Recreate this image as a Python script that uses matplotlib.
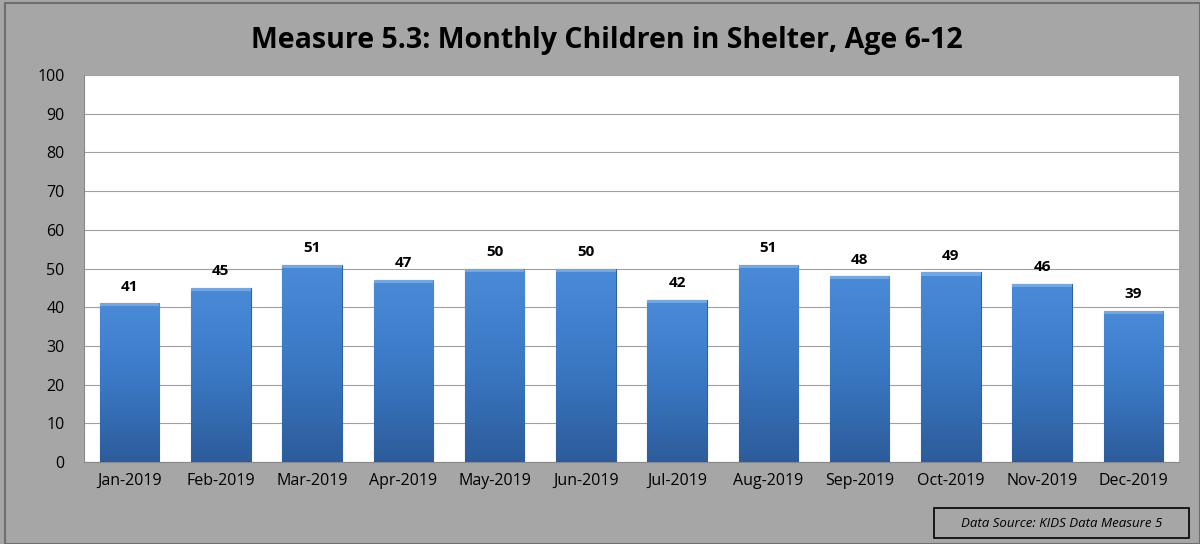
import numpy as np
import matplotlib.pyplot as plt
from matplotlib.patches import Rectangle
from matplotlib.colors import LinearSegmentedColormap

meses = ['Jan-2019', 'Feb-2019', 'Mar-2019', 'Apr-2019', 'May-2019', 'Jun-2019',
         'Jul-2019', 'Aug-2019', 'Sep-2019', 'Oct-2019', 'Nov-2019', 'Dec-2019']
ninos = [41, 45, 51, 47, 50, 50, 42, 51, 48, 49, 46, 39]
titulo = 'Measure 5.3: Monthly Children in Shelter, Age 6-12'
fuente = 'Data Source: KIDS Data Measure 5'

plt.rcParams['font.family'] = ['Open Sans', 'DejaVu Sans']

fig = plt.figure(figsize=(12, 5.44), dpi=100, facecolor='#A6A6A6')
ax = fig.add_axes([0.07, 0.1507, 0.9125, 0.7113])
ax.set_facecolor('white')

x = np.arange(len(meses))
barras = ax.bar(x, ninos, width=0.65, color='#3A78C4', edgecolor='#2E5F9E',
                linewidth=0.8, zorder=3)

# degradado vertical dentro de cada barra
grad = np.linspace(0, 1, 256).reshape(-1, 1)
cmap = LinearSegmentedColormap.from_list('azul', ['#2D5C9A', '#3A78C4', '#4A8BD8'])
for b in barras:
    x0, y0 = b.get_x(), b.get_y()
    w, h = b.get_width(), b.get_height()
    im = ax.imshow(grad, extent=[x0, x0 + w, y0, y0 + h], origin='lower',
                   cmap=cmap, aspect='auto', zorder=4)
    im.set_clip_path(b)
    ax.add_patch(Rectangle((x0, y0 + h - 0.8), w, 0.8, color='#6FA8E8', zorder=5, lw=0))

for xi, v in zip(x, ninos):
    ax.text(xi, v + 2.5, str(v), ha='center', va='bottom', fontsize=11,
            fontweight='bold', color='black', zorder=6)

ax.set_xlim(-0.5, len(meses) - 0.5)
ax.set_ylim(0, 100)
ax.set_yticks(range(0, 101, 10))
ax.set_xticks(x)
ax.set_xticklabels(meses)
ax.tick_params(axis='both', length=0, labelsize=11.5, colors='black')
ax.tick_params(axis='y', pad=14)
ax.tick_params(axis='x', pad=8)
ax.yaxis.grid(True, color='#A0A0A0', linewidth=0.8, zorder=0)
for s in ['top', 'right']:
    ax.spines[s].set_visible(False)
ax.spines['left'].set_color('#888888')
ax.spines['bottom'].set_color('#888888')

fig.text(0.506, 0.925, titulo, ha='center', va='center', fontsize=20.5,
         fontweight='bold', color='black')

fig.patches.append(Rectangle((0.004, 0.0), 0.996, 0.994, transform=fig.transFigure,
                             fill=False, edgecolor='#6E6E6E', linewidth=1.5))
fig.patches.append(Rectangle((0.778, 0.011), 0.213, 0.055, transform=fig.transFigure,
                             fill=False, edgecolor='black', linewidth=1.2))
fig.text(0.8845, 0.0385, fuente, ha='center', va='center', fontsize=9.5,
         style='italic', color='black')

plt.savefig('out.png', dpi=100, facecolor=fig.get_facecolor())
